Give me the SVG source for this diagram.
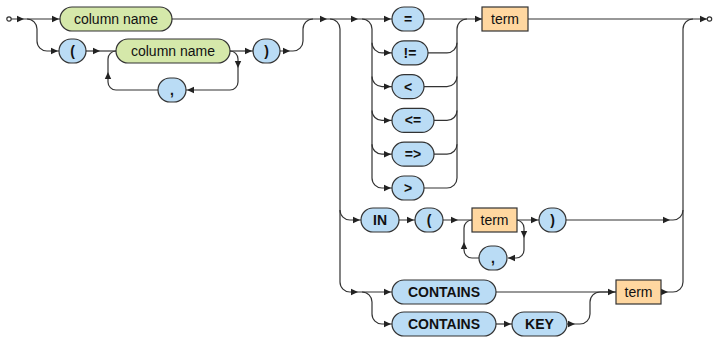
<svg xmlns="http://www.w3.org/2000/svg" xmlns:xlink="http://www.w3.org/1999/xlink" width="713" height="337" viewBox="0 0 713 337">
<style>
.l{fill:none;stroke:#333;stroke-width:1.2}
.ah{fill:#222;stroke:none}
.t{fill:#BADCF5;stroke:#333;stroke-width:1.2}
.n{fill:#D5E8AA;stroke:#333;stroke-width:1.2}
.o{fill:#FFD7A0;stroke:#333;stroke-width:1.2}
.e{fill:#fff;stroke:#333;stroke-width:1.2}
.tt{font-family:"Liberation Sans",Arial,sans-serif;font-size:14px;font-weight:bold;fill:#111;text-anchor:middle}
.nt{font-family:"Liberation Sans",Arial,sans-serif;font-size:14px;fill:#111;text-anchor:middle}
</style>
<defs>
<path id="a" class="ah" d="M0,0 L-7,-3.2 L-7,3.2 Z"/>
</defs>
<g id="connectors">
<path class="l" d="M11,19 H60"/>
<path class="l" d="M27,19 a10,10 0 0 1 10,10 V41 a10,10 0 0 0 10,10 H59"/>
<path class="l" d="M86,51 H116"/>
<path class="l" d="M230,51 H253"/>
<path class="l" d="M280,51 H293 a10,10 0 0 0 10,-10 V29 a10,10 0 0 1 10,-10"/>
<path class="l" d="M230,51 a8,8 0 0 1 8,8 V82 a8,8 0 0 1 -8,8 H186"/>
<path class="l" d="M158,90 H116 a8,8 0 0 1 -8,-8 V59 a8,8 0 0 1 8,-8"/>
<path class="l" d="M172,19 H392"/>
<path class="l" d="M330,19 a10,10 0 0 1 10,10 V282 a10,10 0 0 0 10,10 H392"/>
<path class="l" d="M340,210 a10,10 0 0 0 10,10 H361"/>
<path class="l" d="M362,19 a10,10 0 0 1 10,10 V178 a10,10 0 0 0 10,10 H392"/>
<path class="l" d="M372,42.8 a10,10 0 0 0 10,10 H392"/>
<path class="l" d="M372,76.6 a10,10 0 0 0 10,10 H392"/>
<path class="l" d="M372,110.4 a10,10 0 0 0 10,10 H392"/>
<path class="l" d="M372,144.2 a10,10 0 0 0 10,10 H392"/>
<path class="l" d="M424,19 H482"/>
<path class="l" d="M428,52.8 H447 a10,10 0 0 0 10,-10"/>
<path class="l" d="M424,86.6 H447 a10,10 0 0 0 10,-10"/>
<path class="l" d="M434,120.4 H447 a10,10 0 0 0 10,-10"/>
<path class="l" d="M434,154.2 H447 a10,10 0 0 0 10,-10"/>
<path class="l" d="M424,188 H447 a10,10 0 0 0 10,-10 V29 a10,10 0 0 1 10,-10"/>
<path class="l" d="M528,19 H707"/>
<path class="l" d="M683,282 V29 a10,10 0 0 1 10,-10"/>
<path class="l" d="M399,220 H415 M443,220 H472 M516,220 H539"/>
<path class="l" d="M566,220 H673 a10,10 0 0 0 10,-10"/>
<path class="l" d="M516,220 a8,8 0 0 1 8,8 V250 a8,8 0 0 1 -8,8 H508"/>
<path class="l" d="M479,258 H472 a8,8 0 0 1 -8,-8 V228 a8,8 0 0 1 8,-8"/>
<path class="l" d="M496,292 H616"/>
<path class="l" d="M362,292 a10,10 0 0 1 10,10 V314 a10,10 0 0 0 10,10 H392"/>
<path class="l" d="M496,324 H512"/>
<path class="l" d="M567,324 H580 a10,10 0 0 0 10,-10 V302 a10,10 0 0 1 10,-10 H616"/>
<path class="l" d="M661,292 H673 a10,10 0 0 0 10,-10"/>
<use xlink:href="#a" transform="translate(24,19)"/>
<use xlink:href="#a" transform="translate(59,19)"/>
<use xlink:href="#a" transform="translate(58,51)"/>
<use xlink:href="#a" transform="translate(100,51)"/>
<use xlink:href="#a" transform="translate(252,51)"/>
<use xlink:href="#a" transform="translate(290,51)"/>
<use xlink:href="#a" transform="translate(327,19)"/>
<use xlink:href="#a" transform="translate(358,19)"/>
<use xlink:href="#a" transform="translate(391,19)"/>
<use xlink:href="#a" transform="translate(391,52.8)"/>
<use xlink:href="#a" transform="translate(391,86.6)"/>
<use xlink:href="#a" transform="translate(391,120.4)"/>
<use xlink:href="#a" transform="translate(391,154.2)"/>
<use xlink:href="#a" transform="translate(391,188)"/>
<use xlink:href="#a" transform="translate(482,19)"/>
<use xlink:href="#a" transform="translate(707,19)"/>
<use xlink:href="#a" transform="translate(360,220)"/>
<use xlink:href="#a" transform="translate(414,220)"/>
<use xlink:href="#a" transform="translate(458,220)"/>
<use xlink:href="#a" transform="translate(538,220)"/>
<use xlink:href="#a" transform="translate(670,220)"/>
<use xlink:href="#a" transform="translate(358,292)"/>
<use xlink:href="#a" transform="translate(391,292)"/>
<use xlink:href="#a" transform="translate(391,324)"/>
<use xlink:href="#a" transform="translate(511,324)"/>
<use xlink:href="#a" transform="translate(575,324)"/>
<use xlink:href="#a" transform="translate(615,292)"/>
<use xlink:href="#a" transform="translate(668,292)"/>
<use xlink:href="#a" transform="translate(238,68) rotate(90)"/>
<use xlink:href="#a" transform="translate(524,238) rotate(90)"/>
<use xlink:href="#a" transform="translate(108,72) rotate(-90)"/>
<use xlink:href="#a" transform="translate(464,242) rotate(-90)"/>
<use xlink:href="#a" transform="translate(187,90) rotate(180)"/>
<use xlink:href="#a" transform="translate(508,258) rotate(180)"/>
</g>
<g id="start"><circle class="e" cx="9" cy="19" r="2.2"/></g>
<g id="end"><circle class="e" cx="709.5" cy="19" r="2.2"/></g>
<g id="colname1"><rect class="n" x="60" y="7" width="112" height="24" rx="12"/><text class="nt" x="116" y="24">column name</text></g>
<g id="lparen1"><rect class="t" x="59" y="39" width="27" height="24" rx="12"/><text class="tt" x="72.5" y="56">(</text></g>
<g id="colname2"><rect class="n" x="116" y="39" width="114" height="24" rx="12"/><text class="nt" x="173" y="56">column name</text></g>
<g id="rparen1"><rect class="t" x="253" y="39" width="27" height="24" rx="12"/><text class="tt" x="266.5" y="56">)</text></g>
<g id="comma1"><rect class="t" x="158" y="78" width="28" height="24" rx="12"/><text class="tt" x="172" y="95">,</text></g>
<g id="op-eq"><rect class="t" x="392" y="7" width="32" height="24" rx="12"/><text class="tt" x="408" y="24">=</text></g>
<g id="op-ne"><rect class="t" x="392" y="40.8" width="36" height="24" rx="12"/><text class="tt" x="410" y="57.8">!=</text></g>
<g id="op-lt"><rect class="t" x="392" y="74.6" width="32" height="24" rx="12"/><text class="tt" x="408" y="91.6">&lt;</text></g>
<g id="op-le"><rect class="t" x="392" y="108.4" width="42" height="24" rx="12"/><text class="tt" x="413" y="125.4">&lt;=</text></g>
<g id="op-ge"><rect class="t" x="392" y="142.2" width="42" height="24" rx="12"/><text class="tt" x="413" y="159.2">=&gt;</text></g>
<g id="op-gt"><rect class="t" x="392" y="176" width="32" height="24" rx="12"/><text class="tt" x="408" y="193">&gt;</text></g>
<g id="term1"><rect class="o" x="482" y="7" width="46" height="24"/><text class="nt" x="505" y="24">term</text></g>
<g id="in"><rect class="t" x="361" y="208" width="38" height="24" rx="12"/><text class="tt" x="380" y="225">IN</text></g>
<g id="lparen2"><rect class="t" x="415" y="208" width="28" height="24" rx="12"/><text class="tt" x="429" y="225">(</text></g>
<g id="term2"><rect class="o" x="472" y="208" width="45" height="24"/><text class="nt" x="494.5" y="225">term</text></g>
<g id="rparen2"><rect class="t" x="539" y="208" width="27" height="24" rx="12"/><text class="tt" x="552.5" y="225">)</text></g>
<g id="comma2"><rect class="t" x="479" y="246" width="28" height="24" rx="12"/><text class="tt" x="493" y="263">,</text></g>
<g id="contains1"><rect class="t" x="392" y="280" width="104" height="24" rx="12"/><text class="tt" x="444" y="297">CONTAINS</text></g>
<g id="contains2"><rect class="t" x="392" y="312" width="104" height="24" rx="12"/><text class="tt" x="444" y="329">CONTAINS</text></g>
<g id="key"><rect class="t" x="512" y="312" width="55" height="24" rx="12"/><text class="tt" x="539.5" y="329">KEY</text></g>
<g id="term3"><rect class="o" x="616" y="280" width="45" height="24"/><text class="nt" x="638.5" y="297">term</text></g>
</svg>
